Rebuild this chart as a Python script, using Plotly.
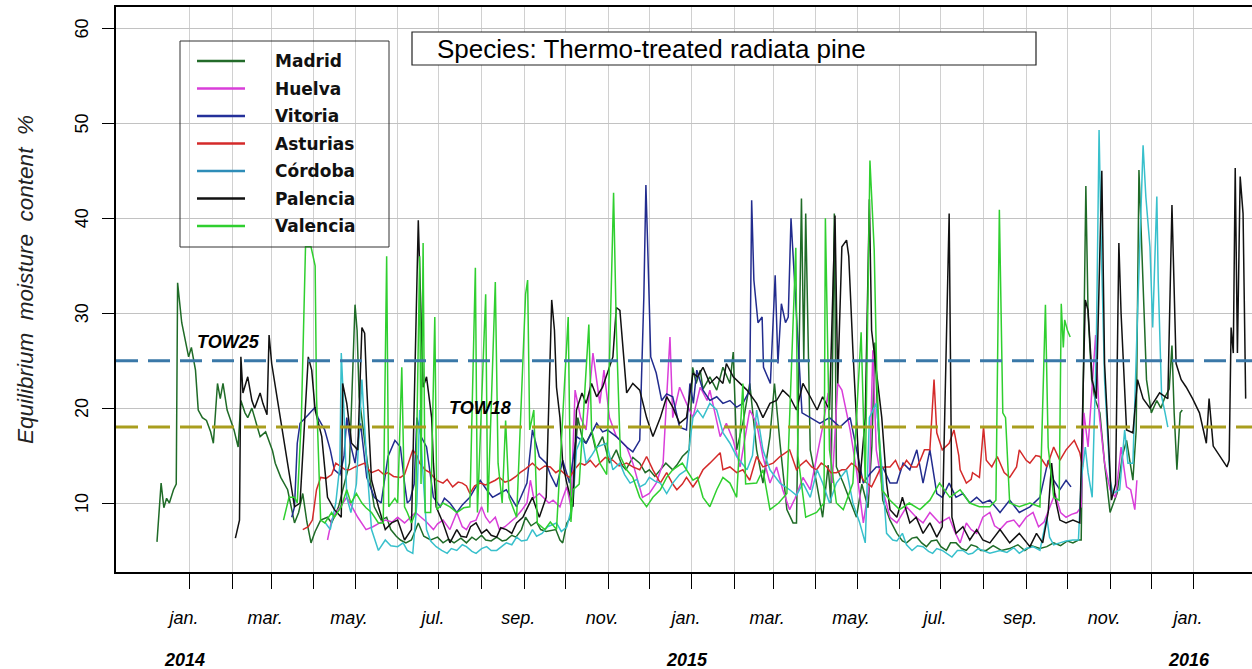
import pandas as pd
import plotly.graph_objects as go

# ---------------- data (day offsets from 2014-01-01, EMC %) ----------------
MADRID = [(-24, 5.9), (-21, 12.1), (-19, 9.5), (-17, 10.5), (-15, 10.0), (-12, 11.4), (-10, 12.0), (-9, 33.2),
          (-6, 29.0), (-1, 25.4), (1, 26.4), (4, 24.0), (6, 19.8), (9, 19.0), (12, 18.7), (15, 17.5), (17, 16.3),
          (20, 22.6), (22, 21.0), (24, 22.6), (27, 19.8), (30, 18.5), (32, 17.7), (35, 15.9), (37, 20.8),
          (40, 19.5), (42, 19.0), (45, 20.0), (48, 18.5), (51, 17.0), (55, 17.5), (60, 15.5), (62, 14.2),
          (66, 12.7), (71, 11.4), (76, 7.9), (79, 9.0), (82, 11.0), (85, 8.0), (88, 5.8), (91, 7.0), (95, 8.2),
          (100, 8.5), (103, 7.9), (108, 9.6), (116, 14.2), (120, 30.9), (121.5, 28.2), (123, 21.2), (125, 19.0),
          (129, 14.2), (134, 9.6), (139, 8.2), (143, 8.5), (146, 7.2), (150, 6.5), (153, 6.1), (157, 5.8),
          (161, 6.1), (166, 7.9), (170, 6.5), (175, 6.1), (180, 6.4), (184, 5.8), (188, 6.2), (192, 5.8),
          (197, 6.3), (201, 5.8), (205, 6.4), (208, 6.1), (212, 6.6), (215, 6.1), (219, 6.0), (223, 6.4),
          (227, 6.0), (230, 6.1), (234, 6.6), (237, 6.4), (241, 7.2), (244, 8.5), (248, 7.6), (252, 8.0),
          (255, 7.2), (259, 7.0), (266, 7.2), (269, 6.1), (271, 5.8), (274, 7.9), (277, 8.5), (282, 19.0),
          (285, 17.0), (288, 16.3), (292, 17.5), (295, 15.6), (300, 17.0), (305, 14.2), (310, 15.6), (314, 14.0),
          (317, 13.5), (322, 14.8), (327, 14.2), (331, 13.2), (334, 13.5), (338, 12.8), (342, 13.5), (346, 14.2),
          (351, 13.5), (354, 14.0), (358, 14.9), (363, 15.6), (365.5, 24.3), (368, 22.6), (371, 24.0), (373, 22.0),
          (378, 23.3), (383, 21.9), (387.5, 24.3), (392.6, 22.6), (395, 25.9), (397.5, 15.6), (402, 18.4),
          (407, 22.6), (412, 15.6), (416.6, 12.1), (421.7, 17.0), (425, 22.6), (429, 16.3), (434, 9.3),
          (438.5, 7.9), (441, 7.9), (444.6, 42.1), (446.3, 25.0), (447.7, 40.5), (451, 15.6), (455.6, 12.1),
          (460, 8.5), (464, 14.0), (466, 10.0), (468.5, 40.5), (470, 13.8), (475, 12.1), (480, 10.3),
          (484.6, 8.5), (488.5, 12.0), (493, 9.5), (495.8, 16.0), (498, 26.9), (500, 19.0), (503.7, 10.3),
          (509, 8.2), (514, 6.8), (518, 6.0), (521, 5.8), (525, 6.3), (528.5, 6.4), (532, 5.8), (535.5, 5.4),
          (539, 6.0), (543, 6.1), (546, 5.4), (550, 5.0), (553, 5.8), (557, 5.8), (561, 5.2), (564.5, 5.0),
          (568, 5.6), (572, 5.4), (575, 5.0), (579, 5.0), (584, 5.5), (590, 5.0), (596, 5.2), (602, 5.6),
          (607, 5.0), (612, 5.5), (618, 5.2), (623, 5.4), (628, 5.8), (633, 5.5), (638, 6.0), (642, 5.8),
          (646, 6.1), (648, 6.1), (651.4, 43.4), (653, 30.0), (655.6, 23.0), (658, 21.0), (661.6, 19.5),
          (665, 14.2), (669, 9.0), (674, 11.0), (678, 15.0), (681, 16.6), (685.6, 12.4), (688, 17.7),
          (690, 45.1), (693, 33.5), (695.5, 23.0), (699, 19.5), (703, 20.8), (706, 20.0), (709, 21.2),
          (712, 22.0), (714, 26.6), (715.6, 19.5), (717.6, 13.5), (720, 19.5), (721.5, 19.8)]

HUELVA = [(100, 6.1), (103, 8.2), (106, 9.0), (109, 9.5), (114, 10.6), (118, 9.5), (122, 8.5), (128, 7.2),
          (133, 7.5), (138, 7.9), (142, 8.2), (147, 8.0), (151, 8.5), (156, 7.9), (160, 8.5), (164, 9.0),
          (168, 8.5), (172, 8.0), (177, 7.2), (180, 7.8), (184, 8.2), (189, 7.2), (194, 9.0), (198, 7.5),
          (201, 7.2), (204, 8.0), (208, 8.2), (212, 9.6), (215, 8.5), (218, 7.9), (222, 8.5), (225, 7.2),
          (229, 7.5), (233, 8.0), (237, 8.5), (241, 9.2), (245, 10.0), (247.5, 12.4), (250, 10.5), (254, 11.0),
          (257, 10.6), (261, 10.0), (264, 10.3), (269, 9.6), (271, 10.5), (274, 11.7), (277, 9.6), (280, 21.9),
          (284, 19.0), (288, 17.7), (293, 25.8), (298, 20.5), (301, 24.0), (305, 19.0), (310, 17.0),
          (317.5, 15.9), (322, 14.2), (329, 10.6), (334, 11.0), (339, 12.1), (344, 14.2), (349, 27.5),
          (351, 19.0), (356, 22.2), (361, 20.5), (365.7, 19.0), (371, 22.2), (376, 20.8), (378, 21.9),
          (383, 18.4), (385.5, 17.0), (390, 18.4), (395, 16.6), (400, 13.8), (407, 19.8), (412, 18.4),
          (416.6, 14.9), (421.7, 12.1), (426.5, 13.8), (431, 11.4), (436, 9.3), (440, 10.5), (445.7, 12.7),
          (451, 11.4), (456, 14.9), (460, 18.0), (464, 21.6), (467, 12.1), (471, 22.6), (474, 21.9),
          (480, 17.7), (484.6, 13.5), (489.6, 7.9), (494, 12.0), (496.5, 26.1), (499, 15.6), (503.7, 11.4),
          (509, 8.5), (514, 7.9), (521, 9.6), (528, 8.5), (533, 7.9), (538, 9.0), (545, 7.9), (552, 8.5),
          (556, 7.0), (560, 5.8), (564.5, 7.9), (568, 7.2), (572, 6.8), (576.5, 8.5), (581.6, 9.0), (585, 7.6),
          (589, 7.2), (594, 8.0), (599, 8.2), (603, 7.5), (608, 8.5), (613, 9.0), (617, 7.5), (621, 8.0),
          (625, 9.5), (629, 11.0), (633, 9.0), (637, 8.5), (641, 8.8), (645, 9.0), (648, 9.6), (650, 19.5),
          (653, 15.9), (656, 23.0), (658.5, 27.7), (661, 19.5), (665, 14.2), (669, 11.4), (673, 10.6),
          (677, 15.9), (681, 11.7), (684, 11.4), (687, 9.3), (688.5, 12.4)]

VITORIA = [(74, 8.5), (76, 9.6), (78, 16.3), (80, 18.4), (86, 19.3), (91, 20.1), (93, 19.0), (98, 17.7),
           (102, 15.6), (105, 13.5), (109, 13.0), (112, 14.9), (114, 19.0), (117, 16.0), (120, 14.2), (124, 18.4),
           (128.5, 12.7), (134, 10.6), (139, 10.0), (144, 14.9), (149, 16.6), (153, 15.9), (156, 12.1),
           (158, 10.0), (160, 10.3), (163, 12.0), (165, 19.0), (168, 17.0), (172, 15.9), (177, 10.6), (182, 9.6),
           (185, 10.5), (189, 10.0), (194, 9.0), (198, 9.8), (203.5, 10.6), (207, 11.5), (211, 12.4),
           (215.7, 11.4), (220, 10.6), (225, 11.0), (230, 11.4), (237.5, 9.6), (242, 11.0), (245, 12.1),
           (249, 17.7), (254, 14.9), (259, 14.2), (262, 13.0), (266.5, 11.7), (271, 14.5), (276, 12.1),
           (281, 17.0), (288, 16.3), (295.7, 18.4), (300, 17.5), (303.5, 17.7), (310, 17.0), (317.5, 15.9),
           (322, 15.4), (327, 16.6), (330, 31.7), (331.5, 43.5), (333, 36.0), (335, 25.4), (339, 23.7),
           (343, 20.8), (346.6, 21.5), (351, 21.2), (356, 18.0), (361, 17.7), (363.5, 22.6), (366, 20.5),
           (368.5, 24.0), (373, 21.9), (378, 20.8), (383, 21.2), (387.5, 20.5), (392.6, 20.8), (397.5, 20.1),
           (402, 20.5), (407, 21.9), (408.4, 41.9), (410, 33.5), (413, 29.0), (416, 29.6), (417, 24.3),
           (422, 22.6), (425.5, 34.0), (427.5, 24.7), (430, 31.0), (433, 29.0), (435, 29.6), (437, 40.0),
           (440, 32.4), (442, 27.5), (445, 19.5), (451, 19.0), (458, 18.4), (465, 19.0), (472.6, 18.0),
           (480, 19.0), (484.6, 15.6), (489.6, 12.1), (494, 13.0), (499, 13.8), (503.7, 13.8), (509, 12.1),
           (514, 12.1), (518.5, 14.2), (523.4, 13.5), (528.5, 15.6), (533, 12.1), (538, 15.6), (543, 11.0),
           (547, 10.6), (552, 12.1), (557, 10.6), (562, 11.0), (567, 10.0), (572, 10.6), (576.5, 10.0),
           (581.6, 10.3), (589, 9.0), (596, 10.3), (603, 9.0), (610.7, 9.6), (618, 10.6), (624, 14.5),
           (628, 12.4), (632.5, 11.4), (637, 12.4), (640.6, 11.7)]

ASTURIAS = [(82, 7.2), (86, 7.5), (89, 8.2), (92, 11.4), (95, 12.7), (99, 12.6), (103, 13.0), (106, 14.2),
            (110, 13.8), (113, 13.5), (116, 13.5), (120, 13.8), (127, 14.2), (130, 13.5), (132, 13.2),
            (137, 13.5), (141, 13.0), (144, 13.2), (148, 12.8), (151, 12.7), (153, 12.7), (156, 13.0),
            (160, 14.9), (162, 15.6), (165, 15.0), (167, 14.2), (171, 13.5), (174.5, 13.2), (179, 12.4),
            (184, 12.1), (187, 12.5), (191, 11.7), (195, 12.2), (198, 12.1), (201, 11.8), (203.5, 11.0),
            (207, 11.8), (211, 12.1), (215, 11.9), (218, 12.1), (222, 12.4), (225, 12.7), (229, 12.2),
            (233, 12.4), (237, 12.8), (240, 13.2), (244, 13.6), (249, 14.2), (254, 13.5), (258, 13.9),
            (262, 13.8), (266, 13.2), (269, 13.5), (273, 13.0), (276, 12.7), (280, 13.6), (283.5, 14.2),
            (287, 14.0), (291, 14.5), (295, 13.8), (298, 14.2), (302, 14.8), (307.5, 14.5), (312, 13.9),
            (317.5, 14.2), (322, 13.8), (327, 13.5), (332, 14.9), (336.6, 13.5), (342, 12.1), (346.6, 13.2),
            (351, 12.0), (354, 11.4), (358, 12.0), (361, 12.7), (365.7, 11.7), (369, 12.4), (373, 13.5),
            (378, 14.2), (383, 14.9), (385.5, 15.3), (387.5, 13.5), (392.6, 13.8), (397.5, 13.2), (402, 13.5),
            (407, 12.4), (412, 14.9), (416.6, 13.8), (420, 14.0), (424, 14.2), (429, 14.9), (436, 15.6),
            (441, 13.5), (444, 14.0), (448, 14.5), (452, 13.8), (455.6, 13.5), (459, 14.2), (463, 13.8),
            (466, 13.2), (470, 13.2), (474, 13.5), (477, 13.5), (481, 14.2), (484.6, 13.8), (489.6, 12.4),
            (495.6, 11.7), (501.6, 13.5), (505, 13.8), (509, 13.8), (513, 14.5), (516, 13.5), (519, 14.0),
            (521, 14.5), (525, 13.8), (528.5, 13.8), (531, 14.5), (534, 15.6), (538, 15.6), (541, 23.0),
            (543, 17.4), (547, 15.6), (552, 16.3), (555.5, 17.7), (559, 15.0), (560, 13.5), (564.5, 12.1),
            (568, 12.5), (569, 13.2), (574, 12.7), (577, 18.0), (579, 14.5), (583, 13.8), (587, 14.9),
            (592, 13.2), (596, 12.7), (601, 13.8), (603, 15.6), (608, 14.5), (610.7, 14.2), (615, 15.0),
            (618, 14.9), (623, 13.8), (628, 15.9), (632.5, 14.5), (637, 15.6), (643, 16.6), (647, 15.3),
            (649, 13.8)]

CORDOBA = [(98, 8.0), (102, 7.2), (106, 10.0), (109, 14.0), (110, 25.8), (112, 19.5), (114, 10.6), (117, 9.0),
           (121, 12.0), (125, 23.0), (128.5, 14.2), (132, 7.2), (137, 5.0), (142, 6.1), (146, 5.5), (151, 5.4),
           (155, 5.8), (158, 5.0), (162, 4.7), (165, 10.0), (167, 19.8), (169, 14.0), (172, 7.2), (175, 6.0),
           (179, 5.4), (183, 5.0), (187, 4.7), (190, 5.2), (194, 5.0), (198, 5.6), (201, 5.4), (205, 4.9),
           (208, 4.7), (212, 5.2), (215.7, 5.4), (219, 5.0), (223, 5.0), (227, 5.5), (230, 5.8), (234, 5.6),
           (237.5, 6.4), (241, 6.0), (245, 6.1), (249, 7.2), (252, 6.5), (256, 6.8), (260, 7.5), (266.5, 7.9),
           (270, 7.0), (274, 7.5), (278.5, 10.0), (281, 15.6), (285, 17.0), (288, 14.2), (292, 15.0),
           (295.7, 15.9), (303, 16.3), (307.5, 13.5), (312.6, 14.2), (316, 13.0), (320, 12.1), (325, 12.5),
           (327, 11.7), (331, 12.0), (334, 12.7), (338, 12.3), (342, 12.1), (346.6, 11.0), (351, 12.1),
           (356, 13.0), (361, 13.5), (365.7, 19.0), (369, 19.8), (373, 19.0), (378, 20.5), (383, 19.8),
           (387.5, 17.4), (392.6, 16.3), (397.5, 14.9), (405, 13.5), (409, 15.0), (412, 19.8), (416.6, 15.6),
           (421.7, 13.5), (429, 12.1), (436, 11.4), (441, 10.8), (445.7, 12.1), (451, 10.6), (456, 13.5),
           (460, 12.1), (465, 10.0), (470, 12.1), (477.4, 13.5), (482, 10.0), (487, 7.9), (491, 5.8),
           (494, 19.0), (499, 20.5), (503, 13.8), (506.5, 6.8), (511, 6.1), (514, 6.0), (518, 6.8), (521, 5.6),
           (525, 5.0), (529, 5.5), (533, 5.4), (537, 4.9), (540, 4.7), (543, 5.2), (547, 5.0), (551, 4.6),
           (554, 4.3), (558, 5.0), (562, 5.0), (566, 4.6), (569, 4.7), (573, 5.2), (576, 5.0), (581.6, 4.7),
           (589, 5.0), (594, 4.8), (599, 5.3), (603, 4.7), (608, 5.2), (613, 5.4), (618, 5.0), (623, 8.5),
           (625, 6.4), (628, 5.6), (632.5, 5.8), (637, 6.0), (642, 6.1), (646, 6.1), (648, 12.4), (651, 15.9),
           (653, 13.2), (656, 10.6), (659, 26.4), (661, 49.3), (662.6, 37.0), (665, 23.0), (669, 12.4),
           (671, 11.0), (676, 11.4), (679.6, 17.7), (682, 14.2), (685.6, 14.2), (689, 30.0), (693, 47.7),
           (695, 42.3), (698, 37.0), (700, 28.5), (703, 42.3), (704, 33.5), (706.5, 21.2), (709, 19.5),
           (711, 18.0)]

PALENCIA = [(33, 6.3), (36, 8.2), (37, 25.4), (38.5, 21.6), (42, 23.3), (45, 20.8), (47, 20.0), (51, 21.6),
            (53, 20.5), (56, 19.3), (57.5, 27.7), (59.4, 24.7), (64, 20.5), (69, 15.9), (72.7, 12.4), (76, 9.6),
            (80, 10.0), (83.6, 19.0), (86, 25.4), (88.5, 24.0), (91, 19.8), (95.8, 17.0), (100, 10.6), (105, 9.3),
            (110, 8.5), (111, 22.6), (114, 20.5), (117.5, 16.3), (122, 15.6), (125, 28.5), (127, 27.9),
            (128.5, 22.2), (132, 12.4), (137, 9.6), (142, 7.2), (146.6, 7.9), (151, 8.2), (156, 6.1), (161, 7.2),
            (166, 39.8), (169.5, 22.2), (172, 23.3), (175.7, 19.0), (177, 14.2), (179, 9.6), (184, 7.9),
            (189, 5.8), (194, 7.2), (197, 6.5), (201, 6.4), (204, 7.5), (208, 7.9), (212, 6.8), (215.7, 7.2),
            (219, 6.6), (223, 6.4), (226, 7.4), (230, 7.2), (234, 6.8), (237.5, 7.9), (242, 8.5), (249, 10.6),
            (254, 8.5), (259, 10.6), (263, 31.4), (265, 28.2), (266.5, 22.2), (269, 19.0), (271, 14.2),
            (274, 12.1), (278.5, 9.6), (281, 19.8), (285, 21.6), (288, 20.5), (292, 22.6), (295.7, 21.2),
            (300, 22.2), (307.5, 25.4), (310, 30.6), (312.6, 30.3), (315, 26.4), (317.5, 21.6), (322, 22.6),
            (327, 21.9), (332, 19.0), (336.6, 17.0), (342, 19.0), (346.6, 21.2), (351, 20.1), (356, 18.4),
            (361, 19.0), (365.7, 23.7), (369, 23.3), (373, 24.3), (378, 22.6), (383, 23.3), (387.5, 22.6),
            (390, 24.7), (395, 23.3), (400, 22.6), (405, 21.9), (412, 20.5), (416.6, 19.0), (421.7, 20.5),
            (426.5, 20.8), (431, 21.9), (436, 21.2), (441, 19.8), (445.7, 22.6), (451, 21.2), (456, 19.8),
            (460, 21.2), (465, 19.8), (469, 40.3), (471, 22.6), (474, 37.0), (477.4, 37.7), (479, 36.0),
            (482, 26.1), (487, 12.1), (491, 19.0), (494, 42.0), (495.6, 28.2), (499, 24.0), (503, 19.0),
            (506.5, 12.1), (509, 9.3), (514, 8.5), (518, 10.6), (523.4, 7.9), (528, 8.5), (533, 6.8), (538, 7.9),
            (543, 6.4), (547, 7.5), (552, 40.5), (554, 8.5), (557, 6.8), (562, 7.5), (567, 6.1), (572, 7.2),
            (576.5, 6.1), (581.6, 5.8), (589, 7.2), (596, 5.8), (603, 6.8), (610.7, 5.4), (615.5, 6.8), (620, 5.8),
            (624, 9.0), (626.5, 14.2), (629, 10.6), (632.5, 8.2), (637, 7.9), (642, 8.2), (647, 7.9), (651, 31.4),
            (653, 30.3), (656, 23.0), (659, 21.0), (663, 45.0), (665, 24.7), (670, 10.3), (673, 12.0),
            (675.4, 37.4), (677, 30.0), (681, 17.7), (685.6, 17.4), (689, 23.0), (693, 21.0), (698, 20.0),
            (705, 21.6), (711, 21.0), (714, 41.4), (717, 24.7), (720.7, 23.0), (724.4, 22.2), (729, 21.0),
            (734, 19.5), (739, 16.3), (741, 21.0), (744, 16.0), (749, 14.9), (754, 13.8), (755.6, 14.5),
            (757, 28.5), (758.6, 25.8), (760, 45.3), (761.6, 25.8), (763.6, 44.4), (765.7, 40.5), (767.6, 21.0)]

VALENCIA = [(68, 8.2), (72, 10.6), (76, 10.6), (78, 10.0), (81, 19.0), (84, 37.0), (88, 37.0), (91, 35.0),
            (92, 21.2), (95, 8.2), (98, 7.9), (103, 9.0), (105, 8.5), (110, 9.6), (114, 11.4), (117, 10.0),
            (121, 11.0), (125, 10.0), (128, 9.5), (132, 9.0), (137, 7.9), (140.5, 7.9), (143, 36.0), (144.5, 9.6),
            (149, 10.5), (151, 10.0), (154, 24.3), (156, 9.6), (158, 9.0), (161, 7.9), (164, 9.0), (167, 36.0),
            (168, 12.0), (169.5, 37.4), (171, 9.0), (175, 9.0), (178, 29.6), (179.5, 9.3), (184, 10.0),
            (189, 9.6), (194, 9.0), (199, 9.5), (203.5, 9.6), (207.5, 34.8), (209, 9.0), (215, 32.0),
            (216.5, 9.0), (222, 33.3), (224, 14.2), (227, 10.0), (229.5, 18.7), (232, 10.6), (237.5, 8.5),
            (244, 32.0), (245.5, 33.5), (247, 17.7), (250, 19.8), (252.5, 7.9), (258, 7.2), (262, 8.0),
            (266.5, 7.2), (275, 29.6), (277, 8.0), (278.5, 11.4), (283, 12.0), (290, 28.8), (292, 17.7),
            (298, 14.2), (303, 13.0), (308, 42.7), (310, 28.2), (313, 14.9), (317.5, 13.5), (322, 12.7),
            (327, 10.6), (332, 9.6), (336.6, 10.6), (342, 11.4), (346.6, 12.7), (351, 13.5), (358, 14.2),
            (365.7, 12.4), (369, 12.7), (373, 10.6), (378, 9.6), (383, 11.4), (387.5, 12.7), (392.6, 12.1),
            (397.5, 10.6), (402, 22.6), (404, 12.0), (412, 12.1), (416.6, 13.5), (421.7, 9.3), (428, 10.0),
            (434, 11.0), (440.5, 36.9), (442, 15.0), (447.7, 8.5), (455.6, 9.0), (461, 10.0), (462, 40.0),
            (465, 15.6), (470, 10.0), (475, 9.3), (482, 12.1), (488, 28.0), (491, 12.1), (494.4, 46.1),
            (497.5, 36.7), (499.5, 22.6), (503, 11.4), (509, 10.3), (516, 9.3), (523, 10.0), (530.7, 9.3),
            (538, 10.3), (545, 12.1), (552.5, 10.6), (560, 11.4), (567, 10.0), (574, 9.6), (581.6, 9.6),
            (586, 10.3), (588.5, 40.9), (589.5, 33.5), (591, 19.5), (593, 19.0), (596, 10.0), (603, 9.6),
            (610.7, 10.0), (618, 9.6), (622, 30.9), (624, 15.9), (628, 10.6), (632, 10.3), (633.5, 31.0),
            (635, 26.4), (636, 29.3), (638, 28.2), (640, 27.5)]

SITES = ["Madrid", "Huelva", "Vitoria", "Asturias", "Córdoba", "Palencia", "Valencia"]
SITE_DATA = [MADRID, HUELVA, VITORIA, ASTURIAS, CORDOBA, PALENCIA, VALENCIA]
LINE_COLORS = ["#1f6b27", "#d93ed9", "#222c8e", "#d42a2a", "#38c0cc", "#111111", "#2fcf2f"]
KEY_COLORS = ["#236b2a", "#d93ed9", "#24309a", "#d42a2a", "#2e8db8", "#111111", "#2fcf2f"]

TOW_LEVELS = [25, 18]
TOW_LABELS = ["TOW25", "TOW18"]
Y_TICKS = [10, 20, 30, 40, 50, 60]
MONTH_LABELS = ["jan.", "", "mar.", "", "may.", "", "jul.", "", "sep.", "", "nov.", "",
                "jan.", "", "mar.", "", "may.", "", "jul.", "", "sep.", "", "nov.", "", "jan."]
YEARS = [2014, 2015, 2016]
TITLE = "Species: Thermo-treated radiata pine"
Y_TITLE = "Equilibrium  moisture  content  %"

# ---------------- layout helpers ----------------
W, H = 1252, 669
L, R, T, B = 116, 1252, 7, 572
ORIGIN = pd.Timestamp("2014-01-01")


def px_x(x):
    return (x - L) / (R - L)


def px_y(y):
    return (B - y) / (B - T)


def to_dates(days):
    return [ORIGIN + pd.Timedelta(days=float(d)) for d in days]


fig = go.Figure()
for name, data, col in zip(SITES, SITE_DATA, LINE_COLORS):
    days = [d for d, _ in data]
    vals = [v for _, v in data]
    fig.add_trace(go.Scatter(x=to_dates(days), y=vals, mode="lines", name=name,
                             line=dict(color=col, width=1.5), showlegend=False))

shapes = []
annotations = []

# threshold lines
for lvl, col in zip(TOW_LEVELS, ["#3a78a8", "#a99e1e"]):
    shapes.append(dict(type="line", xref="paper", x0=0, x1=1, yref="y", y0=lvl, y1=lvl,
                       line=dict(color=col, width=3, dash="22px,10px"), layer="above"))
annotations.append(dict(x=ORIGIN + pd.Timedelta(days=28), y=27.0, xref="x", yref="y", text=TOW_LABELS[0],
                        showarrow=False, font=dict(family="Liberation Sans", size=18, color="black",
                                                   weight="bold", style="italic")))
annotations.append(dict(x=ORIGIN + pd.Timedelta(days=211), y=20.0, xref="x", yref="y", text=TOW_LABELS[1],
                        showarrow=False, font=dict(family="Liberation Sans", size=18, color="black",
                                                   weight="bold", style="italic")))

# legend box
shapes.append(dict(type="rect", xref="paper", yref="paper", x0=px_x(180), x1=px_x(389),
                   y0=px_y(247), y1=px_y(41), line=dict(color="#333333", width=1), layer="above"))
for i, (name, col) in enumerate(zip(SITES, KEY_COLORS)):
    yy = 61 + i * 27.5
    shapes.append(dict(type="line", xref="paper", yref="paper", x0=px_x(197), x1=px_x(245),
                       y0=px_y(yy), y1=px_y(yy), line=dict(color=col, width=2.6), layer="above"))
    annotations.append(dict(x=px_x(273), y=px_y(yy), xref="paper", yref="paper", text=name,
                            xanchor="left", yanchor="middle", showarrow=False,
                            font=dict(family="DejaVu Sans", size=17, color="#111111", weight="bold")))

# title box
shapes.append(dict(type="rect", xref="paper", yref="paper", x0=px_x(412), x1=px_x(1036),
                   y0=px_y(65), y1=px_y(32), line=dict(color="#222222", width=1.2),
                   fillcolor="white", layer="above"))
annotations.append(dict(x=px_x(435), y=px_y(48.5), xref="paper", yref="paper", text=TITLE,
                        xanchor="left", yanchor="middle", showarrow=False,
                        font=dict(family="Liberation Sans", size=26, color="black")))

# year labels
for yr in YEARS:
    annotations.append(dict(x=pd.Timestamp(f"{yr}-01-01"), y=px_y(660), xref="x", yref="paper",
                            text=str(yr), showarrow=False, xshift=-5, yanchor="middle",
                            font=dict(family="Liberation Sans", size=18, color="black",
                                      weight="bold", style="italic")))

# rotated y tick labels
for v in Y_TICKS:
    annotations.append(dict(x=px_x(82), y=v, xref="paper", yref="y", text=str(v), textangle=-90,
                            showarrow=False, xanchor="center", yanchor="middle",
                            font=dict(family="Liberation Sans", size=18, color="black")))

# y title
annotations.append(dict(x=px_x(25), y=px_y(280), xref="paper", yref="paper", text=Y_TITLE,
                        textangle=-90, showarrow=False, xanchor="center", yanchor="middle",
                        font=dict(family="Liberation Sans", size=22.5, color="#222222", style="italic")))

month_ticks = list(pd.date_range("2014-01-01", "2016-01-01", freq="MS"))

fig.update_layout(
    width=W, height=H,
    margin=dict(l=L, r=W - R, t=T, b=H - B, autoexpand=False),
    paper_bgcolor="white", plot_bgcolor="white",
    shapes=shapes, annotations=annotations,
    xaxis=dict(type="date", automargin=False,
               range=[ORIGIN + pd.Timedelta(days=-53.8), ORIGIN + pd.Timedelta(days=772.2)],
               tickmode="array", tickvals=month_ticks, ticktext=MONTH_LABELS,
               ticks="outside", ticklen=15, tickwidth=1.2, tickcolor="black",
               showgrid=True, gridcolor="#d0d0d0", gridwidth=1,
               showline=True, linecolor="black", linewidth=1.5, mirror=True,
               tickfont=dict(family="Liberation Sans", size=18, color="black", style="italic"),
               ticklabelshift=-6, ticklabelstandoff=14, zeroline=False),
    yaxis=dict(range=[2.73, 62.27], tickmode="array", tickvals=Y_TICKS, automargin=False,
               showticklabels=False, ticks="outside", ticklen=12, tickwidth=1.2, tickcolor="black",
               showline=True, linecolor="black", linewidth=1.8,
               showgrid=True, gridcolor="#c2c2c2", gridwidth=1, zeroline=False),
)

fig.write_html("out.html", config={"displayModeBar": False},
               post_script="document.body.style.margin='0';document.body.style.overflow='hidden';")
